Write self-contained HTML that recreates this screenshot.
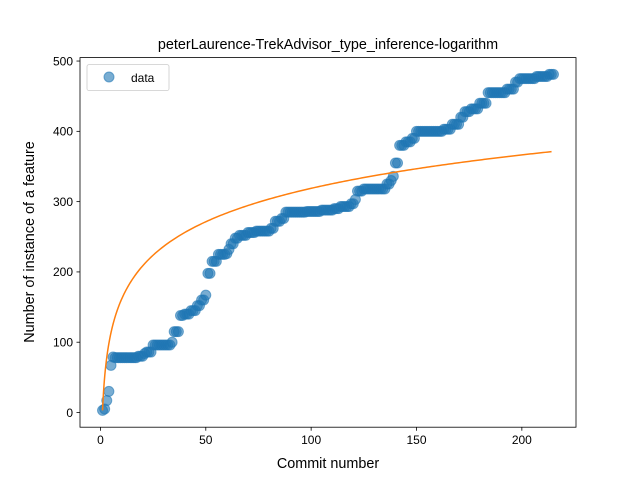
<!DOCTYPE html>
<html><head><meta charset="utf-8"><style>
body{margin:0;background:#fff;overflow:hidden}
svg text{font-family:"Liberation Sans","DejaVu Sans",sans-serif}
</style></head><body>
<svg id="chart" width="640" height="480" xmlns="http://www.w3.org/2000/svg" style="display:block">
<defs><clipPath id="pc"><rect x="80" y="57.6" width="496" height="369.6"/></clipPath></defs>
<rect width="640" height="480" fill="#fff"/>
<text x="328" y="49" text-anchor="middle" font-size="14.4">peterLaurence-TrekAdvisor_type_inference-logarithm</text>
<g id="plot" clip-path="url(#pc)"></g>
<rect x="80" y="57.6" width="496" height="369.6" fill="none" stroke="#000" stroke-width="0.8"/>
<g id="ticks"></g>
<text x="328" y="468" text-anchor="middle" font-size="14.4">Commit number</text>
<text transform="translate(34,242) rotate(-90)" text-anchor="middle" font-size="14.4">Number of instance of a feature</text>
<g>
<rect x="87" y="64.6" width="82" height="26" rx="2" fill="#fff" fill-opacity="0.8" stroke="#ccc" stroke-width="0.8"/>
<circle cx="109" cy="77" r="5" fill="#1f77b4" fill-opacity="0.6" stroke="#1f77b4" stroke-opacity="0.6"/>
<text x="131" y="82" font-size="12">data</text>
</g>
</svg>
<script>
const xTicks=[0,50,100,150,200];
const yTicks=[0,100,200,300,400,500];
const fitParams=[3,68.6]; // y = a + b*ln(x)
const runs=[[3,1],[5,1],[17,1],[30,1],[67,1],[79,1],[78,11],[80,3],[84,1],[86,3],[96,9],[100,1],[115,3],[138,2],[140,3],[145,3],[152,2],[160,2],[167,1],[198,2],[215,3],[225,4],[226,1],[232,1],[240,2],[248,2],[252,4],[256,4],[258,7],[262,2],[272,3],[276,2],[285,10],[286,7],[288,6],[290,3],[293,5],[297,2],[303,1],[315,3],[318,11],[325,2],[330,1],[336,1],[355,2],[380,3],[385,3],[390,2],[400,13],[403,4],[410,4],[420,2],[428,3],[432,4],[440,4],[455,9],[460,4],[470,2],[475,8],[478,6],[481,3]];
const values=[];runs.forEach(r=>{for(let i=0;i<r[1];i++)values.push(r[0]);});
const commits=values.map((v,i)=>i+1);
const NS="http://www.w3.org/2000/svg";
const xmin=-9.7,xmax=225.7,ymin=-20.9,ymax=504.9;
const X=v=>80+(v-xmin)/(xmax-xmin)*496;
const Y=v=>427.2-(v-ymin)/(ymax-ymin)*369.6;
const plot=document.getElementById('plot'),tk=document.getElementById('ticks');
function mk(t,a,p){const e=document.createElementNS(NS,t);for(const k in a)e.setAttribute(k,a[k]);p.appendChild(e);return e;}
commits.forEach((c,i)=>{const e=mk('circle',{cx:X(c),cy:Y(values[i]),r:5,fill:'#1f77b4','fill-opacity':0.6,stroke:'#1f77b4','stroke-opacity':0.6},plot);

});
const a=fitParams[0],b=fitParams[1];
let d='';for(let x=1;x<=commits[commits.length-1];x+=(x<10?0.1:1)){d+=(d?'L':'M')+X(x).toFixed(2)+','+Y(a+b*Math.log(x)).toFixed(2);}
const fl=mk('path',{d:d,fill:'none',stroke:'#ff7f0e','stroke-width':1.5},plot);


xTicks.forEach(t=>{mk('line',{x1:X(t),x2:X(t),y1:427.2,y2:430.7,stroke:'#000','stroke-width':0.8},tk);
const e=mk('text',{x:X(t),y:444,'text-anchor':'middle','font-size':12},tk);e.textContent=t;

});
yTicks.forEach(t=>{mk('line',{x1:76.5,x2:80,y1:Y(t),y2:Y(t),stroke:'#000','stroke-width':0.8},tk);
const e=mk('text',{x:73,y:Y(t)+4.3,'text-anchor':'end','font-size':12},tk);e.textContent=t;

});
</script>
</body></html>
